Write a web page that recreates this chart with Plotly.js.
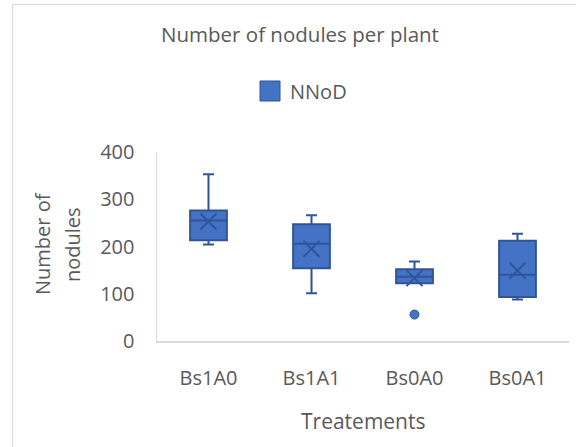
<!DOCTYPE html>
<html>
<head>
<meta charset="utf-8">
<script src="https://cdn.plot.ly/plotly-3.0.1.min.js"></script>
<style>
html,body{margin:0;padding:0;background:#fff;}
#wrap{position:absolute;left:0;top:0;width:576px;height:447px;}
#frame{position:absolute;left:12px;top:4px;width:600px;height:500px;border-left:1.5px solid #d9d9d9;border-top:1.5px solid #d9d9d9;pointer-events:none;}
#chart{position:absolute;left:0;top:0;width:576px;height:447px;}
</style>
</head>
<body>
<div id="wrap"><div id="chart"></div><div id="frame"></div></div>
<script>
const categories = ["Bs1A0", "Bs1A1", "Bs0A0", "Bs0A1"];
const lowerFence = [204, 101, 122, 88];
const q1 = [213, 154, 122, 93];
const median = [255, 206, 136, 140];
const q3 = [276, 247, 152, 212];
const upperFence = [353, 266, 168, 227];
const means = [253, 195, 133, 149];
const outlierCats = ["Bs0A0"];
const outlierVals = [56];
const seriesName = "NNoD";

const fillColor = "#4472C4";
const lineColor = "#2F5597";
const font = "'Open Sans', sans-serif";
const txt = "#595959";

const traces = [
  {
    type: "box",
    name: seriesName,
    x: categories,
    q1: q1,
    median: median,
    q3: q3,
    lowerfence: lowerFence,
    upperfence: upperFence,
    boxpoints: false,
    fillcolor: fillColor,
    line: {color: lineColor, width: 2},
    whiskerwidth: 0.3,
    showlegend: false,
    hoverinfo: "skip"
  },
  {
    type: "scatter",
    mode: "markers",
    x: categories,
    y: means,
    marker: {symbol: "x-thin-open", size: 16, line: {color: lineColor, width: 2}, color: lineColor},
    showlegend: false,
    hoverinfo: "skip"
  },
  {
    type: "scatter",
    mode: "markers",
    x: outlierCats,
    y: outlierVals,
    marker: {symbol: "circle", size: 9, color: fillColor, line: {color: lineColor, width: 1}},
    showlegend: false,
    hoverinfo: "skip"
  }
];

const L = 157, R = 569, T = 152, B = 341;
const W = R - L, H = B - T;
const px = v => (v - L) / W;
const py = v => (B - v) / H;

const layout = {
  width: 576,
  height: 447,
  margin: {l: L, r: 576 - R, t: T, b: 447 - B},
  paper_bgcolor: "rgba(0,0,0,0)",
  plot_bgcolor: "rgba(0,0,0,0)",
  showlegend: false,
  boxgap: 0.49,
  font: {family: font, color: txt},
  title: {
    text: "Number of nodules per plant",
    font: {family: font, size: 20.5, color: txt},
    x: 300 / 576, xanchor: "center",
    y: 1 - 35 / 447, yanchor: "middle"
  },
  xaxis: {
    type: "category",
    showline: true,
    linecolor: "#d9d9d9",
    linewidth: 1.5,
    showgrid: false,
    zeroline: false,
    ticks: "",
    ticklabelstandoff: 18,
    tickfont: {family: font, size: 20, color: txt}
  },
  yaxis: {
    range: [0, 400],
    tickvals: [0, 100, 200, 300, 400],
    showline: true,
    linecolor: "#d9d9d9",
    linewidth: 1.5,
    showgrid: false,
    zeroline: false,
    ticks: "",
    ticklabelstandoff: 17,
    tickfont: {family: font, size: 20, color: txt}
  },
  shapes: [
    {type: "rect", xref: "paper", yref: "paper",
     x0: px(260), x1: px(280), y0: py(101), y1: py(81),
     fillcolor: fillColor, line: {color: lineColor, width: 1}}
  ],
  annotations: [
    {xref: "paper", yref: "paper", x: px(288), y: py(91), xanchor: "left", yanchor: "middle",
     text: seriesName, showarrow: false, font: {family: font, size: 20, color: txt}},
    {xref: "paper", yref: "paper", x: px(42), y: py(244), xanchor: "center", yanchor: "middle",
     textangle: -90, text: "Number of", showarrow: false,
     font: {family: font, size: 20, color: txt}},
    {xref: "paper", yref: "paper", x: px(72), y: py(245), xanchor: "center", yanchor: "middle",
     textangle: -90, text: "nodules", showarrow: false,
     font: {family: font, size: 20, color: txt}},
    {xref: "paper", yref: "paper", x: px(363), y: py(421), xanchor: "center", yanchor: "middle",
     text: "Treatements", showarrow: false, font: {family: font, size: 21, color: txt}}
  ]
};

Plotly.newPlot("chart", traces, layout, {displayModeBar: false, staticPlot: true});
</script>
</body>
</html>
